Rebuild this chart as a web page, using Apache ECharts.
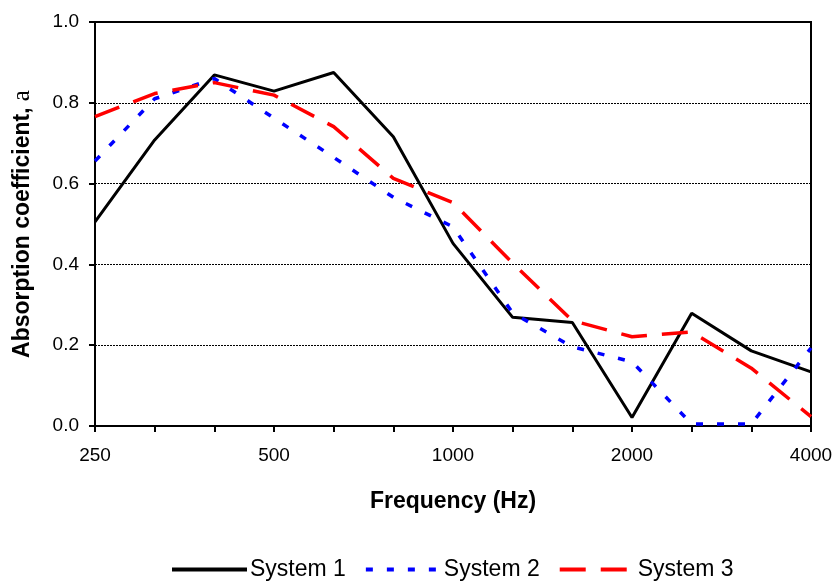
<!DOCTYPE html>
<html><head><meta charset="utf-8">
<script src="https://cdn.jsdelivr.net/npm/echarts@6/dist/echarts.min.js"></script>
<style>html,body{margin:0;padding:0;background:#fff}#c{width:838px;height:581px}</style>
</head><body><div id="c"></div><script>
const freqs = ['250','315','400','500','630','800','1000','1250','1600','2000','2500','3150','4000'];
const system1 = [0.505,0.708,0.869,0.829,0.875,0.716,0.452,0.269,0.256,0.021,0.279,0.186,0.134];
const system2 = [0.656,0.81,0.86,0.762,0.665,0.566,0.493,0.28,0.196,0.159,0.005,0.005,0.193];
const system3 = [0.766,0.823,0.85,0.819,0.741,0.613,0.553,0.403,0.261,0.221,0.233,0.143,0.023];
const seriesNames = ['System 1','System 2','System 3'];
const FONT = '"Liberation Sans", Arial, sans-serif';

const chart = echarts.init(document.getElementById('c'), null, {renderer:'canvas'});
chart.setOption({
  animation:false,
  backgroundColor:'#fff',
  grid:{left:95,right:27,top:22,bottom:155,show:true,borderColor:'#000',borderWidth:2,backgroundColor:'transparent'},
  legend:{
    left:165, top:553, itemWidth:75, itemHeight:14, itemGap:18,
    itemStyle:{opacity:0},
    lineStyle:{width:4},
    textStyle:{fontFamily:FONT,fontSize:23,color:'#000',padding:[0,0,0,-2]},
    data:seriesNames
  },
  xAxis:{
    type:'category', data:freqs, boundaryGap:false,
    name:'Frequency (Hz)', nameLocation:'middle', nameGap:64,
    nameTextStyle:{fontFamily:FONT,fontSize:23,fontWeight:'bold',color:'#000'},
    axisLine:{lineStyle:{color:'#000',width:2}},
    axisTick:{show:true,interval:0,length:6,inside:false,lineStyle:{color:'#000',width:2}},
    axisLabel:{interval:2,fontFamily:FONT,fontSize:19,color:'#000',margin:20},
    splitLine:{show:false}
  },
  yAxis:{
    type:'value', min:0, max:1, interval:0.2,
    name:'{b|Absorption coefficient,}{a| a}', nameLocation:'middle', nameGap:60,
    nameTextStyle:{rich:{
      b:{fontFamily:FONT,fontSize:23,fontWeight:'bold',color:'#000'},
      a:{fontFamily:'"Liberation Serif","Times New Roman",serif',fontSize:25,color:'#000'}
    }},
    axisLine:{show:true,lineStyle:{color:'#000',width:2}},
    axisTick:{show:true,length:6,lineStyle:{color:'#000',width:2}},
    axisLabel:{fontFamily:FONT,fontSize:19,color:'#000',margin:16,formatter:v=>v.toFixed(1)},
    splitLine:{show:true,lineStyle:{color:'#000',width:1,type:[2,1]}}
  },
  series:[
    {name:seriesNames[0],type:'line',data:system1,symbol:'none',z:3,
     lineStyle:{color:'#000',width:3,type:'solid'},itemStyle:{color:'#000'}},
    {name:seriesNames[1],type:'line',data:system2,symbol:'none',z:4,
     lineStyle:{color:'#0000ff',width:3.5,type:[7,14]},itemStyle:{color:'#0000ff'}},
    {name:seriesNames[2],type:'line',data:system3,symbol:'none',z:5,
     lineStyle:{color:'#ff0000',width:3.5,type:[26,15]},itemStyle:{color:'#ff0000'}}
  ]
});
</script></body></html>
